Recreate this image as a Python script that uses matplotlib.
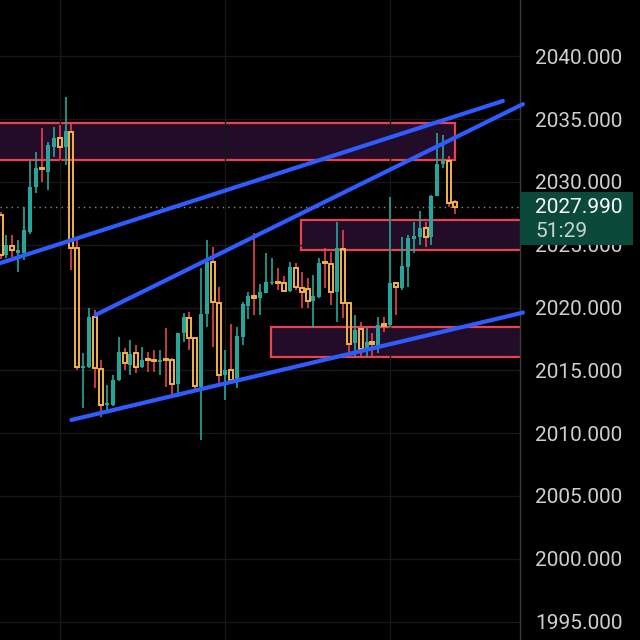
import matplotlib
matplotlib.use("Agg")
import matplotlib.pyplot as plt
from matplotlib.patches import Rectangle
from matplotlib.transforms import blended_transform_factory

plt.rcParams['font.family'] = ['Roboto', 'DejaVu Sans']

# OHLC (one candle per slot)
opens = [2027.37, 2024.19, 2024.90, 2024.35, 2024.35, 2026.02, 2029.60, 2031.11, 2030.80, 2032.79,
         2033.50, 2032.79, 2033.98, 2024.75, 2015.19, 2015.27, 2019.25, 2015.11, 2012.25, 2012.25,
         2014.24, 2016.39, 2015.43, 2016.39, 2015.27, 2015.91, 2015.83, 2015.67, 2015.91, 2015.83,
         2013.92, 2017.98, 2019.17, 2017.58, 2013.68, 2019.49, 2023.63, 2020.37, 2014.63, 2015.03,
         2014.24, 2017.66, 2020.13, 2020.92, 2020.76, 2021.16, 2021.96, 2022.04, 2021.96, 2021.32,
         2023.15, 2021.56, 2021.48, 2020.53, 2020.84, 2023.63, 2023.47, 2021.24, 2024.67, 2020.37,
         2017.18, 2018.30, 2016.78, 2017.26, 2016.86, 2018.69, 2018.61, 2021.96, 2021.56, 2023.23,
         2025.46, 2025.62, 2026.34, 2025.62, 2028.89, 2031.43, 2031.67, 2028.41]
highs = [2027.60, 2025.78, 2025.78, 2025.38, 2028.01, 2031.67, 2032.39, 2034.30, 2033.18, 2034.38,
         2034.54, 2036.77, 2034.78, 2025.54, 2016.39, 2019.97, 2019.81, 2015.83, 2013.84, 2014.63,
         2017.66, 2016.78, 2017.42, 2017.02, 2016.86, 2016.46, 2016.62, 2016.62, 2018.38, 2015.99,
         2017.98, 2019.57, 2019.65, 2017.66, 2023.15, 2025.38, 2024.82, 2021.64, 2016.62, 2018.69,
         2018.46, 2020.45, 2021.20, 2025.94, 2021.88, 2024.35, 2023.95, 2023.15, 2022.52, 2023.63,
         2023.55, 2022.83, 2022.36, 2022.60, 2023.95, 2024.75, 2024.43, 2026.82, 2026.18, 2020.37,
         2019.41, 2018.85, 2018.38, 2017.98, 2019.25, 2019.25, 2028.81, 2022.04, 2025.62, 2025.78,
         2026.82, 2027.69, 2026.82, 2028.96, 2033.90, 2033.74, 2032.07, 2028.57]
lows = [2023.90, 2023.95, 2024.03, 2022.83, 2023.79, 2025.86, 2029.12, 2030.00, 2029.36, 2031.99,
        2031.75, 2031.35, 2022.99, 2015.03, 2012.01, 2015.19, 2013.60, 2011.29, 2011.85, 2012.17,
        2014.16, 2015.03, 2014.63, 2014.79, 2015.19, 2014.87, 2014.87, 2014.63, 2013.68, 2012.80,
        2012.88, 2017.26, 2016.62, 2013.28, 2009.46, 2018.46, 2016.86, 2013.84, 2012.64, 2014.08,
        2013.60, 2017.02, 2019.09, 2019.41, 2019.41, 2021.16, 2021.80, 2021.40, 2021.24, 2021.24,
        2021.40, 2019.97, 2019.97, 2018.38, 2020.76, 2021.56, 2020.21, 2018.85, 2019.17, 2016.07,
        2016.07, 2016.07, 2016.07, 2016.07, 2016.40, 2018.06, 2018.46, 2019.41, 2021.40, 2021.64,
        2024.35, 2024.98, 2024.82, 2024.98, 2028.89, 2031.11, 2028.01, 2027.45]
closes = [2024.19, 2024.98, 2024.59, 2024.59, 2026.18, 2029.60, 2031.11, 2031.04, 2032.95, 2033.50,
          2032.79, 2034.06, 2024.75, 2015.27, 2015.35, 2019.25, 2015.19, 2012.25, 2012.40, 2014.24,
          2016.46, 2015.59, 2016.31, 2015.27, 2015.83, 2015.83, 2015.75, 2015.83, 2015.83, 2013.92,
          2017.98, 2019.25, 2017.58, 2013.76, 2019.49, 2023.63, 2020.45, 2014.63, 2015.03, 2014.24,
          2017.74, 2020.29, 2020.92, 2020.76, 2021.24, 2022.04, 2022.04, 2021.96, 2021.32, 2023.23,
          2021.64, 2021.24, 2020.53, 2020.92, 2023.55, 2023.55, 2021.24, 2024.75, 2020.37, 2017.10,
          2018.22, 2016.70, 2017.26, 2017.10, 2018.61, 2018.54, 2021.96, 2021.64, 2023.31, 2025.54,
          2025.70, 2026.34, 2025.62, 2028.89, 2031.43, 2031.67, 2028.33, 2027.99]

# supply / demand zones: (start slot, end slot, low, high)
zone_start = [-5, 50.9, 45.85]
zone_end = [77.0, 88.5, 88.5]
zone_low = [2031.75, 2024.60, 2016.05]
zone_high = [2034.70, 2026.97, 2018.45]

# trend lines: x0, x1 (slot), y0, y1 (price)
line_x0 = [0.0, 16.07, 12.0]
line_x1 = [85.1, 88.5, 88.5]
line_y0 = [2023.55, 2019.41, 2011.05]
line_y1 = [2036.45, 2036.20, 2019.60]

price_ticks = [1995, 2000, 2005, 2010, 2015, 2020, 2025, 2030, 2035, 2040]
countdown = "51:29"

BULL = '#26a69a'
BEAR_BODY = '#f2b347'
BEAR_WICK = '#e8424f'
BLUE = '#2e5cff'
ZONE_FILL = '#220c27'
ZONE_EDGE = '#e8434f'

fig = plt.figure(figsize=(6.4, 6.4), dpi=100, facecolor='black')
ax = fig.add_axes([0, 0, 520 / 640, 1])
ax.set_facecolor('black')

xs = list(range(len(opens)))
ax.set_xlim(-0.1, 88.0)
ax.set_ylim(1993.53, 2044.49)

# grid
ax.set_xticks([10, 38, 66])
ax.set_yticks(price_ticks)
ax.grid(True, color='#171717', linewidth=1, zorder=0)

# zones
for s, e, lo, hi in zip(zone_start, zone_end, zone_low, zone_high):
    ax.add_patch(Rectangle((s, lo), e - s, hi - lo, facecolor=ZONE_FILL,
                           edgecolor=ZONE_EDGE, linewidth=1.6, zorder=1))

# last price dotted line
ax.axhline(closes[-1], color='#8a8a8a', linestyle=(0, (1, 3)), linewidth=1, zorder=1.5)

# candles
w = 0.68
for i, o, h, l, c in zip(xs, opens, highs, lows, closes):
    top = max(o, c)
    bot = min(o, c)
    if top - bot < 0.12:
        mid = (top + bot) / 2
        top, bot = mid + 0.06, mid - 0.06
    if c >= o:
        ax.vlines(i, l, h, color=BULL, linewidth=1.2, zorder=2)
        ax.bar(i, top - bot, bottom=bot, width=w, color=BULL, zorder=3)
    else:
        ax.vlines(i, top, h, color=BEAR_WICK, linewidth=1.2, zorder=2)
        ax.vlines(i, l, bot, color=BEAR_WICK, linewidth=1.2, zorder=2)
        ax.bar(i, top - bot, bottom=bot, width=w, fill=False,
               edgecolor=BEAR_BODY, linewidth=1.4, zorder=3)

# trend lines
for x0, x1, y0, y1 in zip(line_x0, line_x1, line_y0, line_y1):
    ax.plot([x0, x1], [y0, y1], color=BLUE, linewidth=3, solid_capstyle='round',
            zorder=4, clip_on=False)

# price axis on the right
ax.yaxis.tick_right()
ax.tick_params(axis='y', length=0, pad=11, labelsize=15, labelcolor='#cfcfcf')
ax.tick_params(axis='x', length=0, labelbottom=False)
ax.set_yticklabels([f"{t:.3f}" for t in price_ticks])
for side in ['top', 'left', 'bottom']:
    ax.spines[side].set_visible(False)
ax.spines['right'].set_color('#3a3a3a')
ax.spines['right'].set_linewidth(1)

trans = blended_transform_factory(ax.transAxes, ax.transData)
ax.text(1.029, 2045, "2045.000", transform=trans, ha='left', va='center',
        fontsize=15, color='#cfcfcf', clip_on=False)

# last price tag
last = closes[-1]
ax.add_patch(Rectangle((1.0, last - 3.0), 113 / 520, 4.2, transform=trans,
                       facecolor='#0b4a3b', edgecolor='none', clip_on=False, zorder=10))
ax.text(1.029, last, f"{last:.3f}", transform=trans, ha='left', va='center',
        fontsize=15, color='white', zorder=11, clip_on=False)
ax.text(1.029, last - 1.97, countdown, transform=trans, ha='left', va='center',
        fontsize=15, color='#c5d6cf', zorder=11, clip_on=False)

fig.savefig("out.png", dpi=100, facecolor='black')
